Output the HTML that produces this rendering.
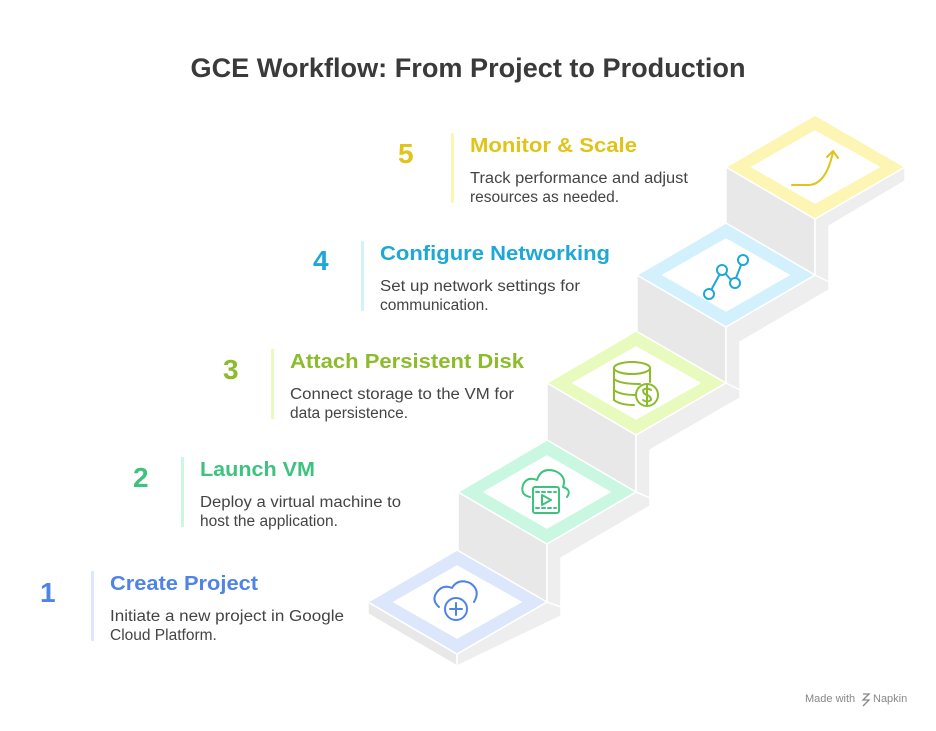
<!DOCTYPE html>
<html><head><meta charset="utf-8"><style>
body{margin:0;background:#fff;}
svg text{font-family:"Liberation Sans",sans-serif;}
</style></head><body>
<svg width="936" height="726" viewBox="0 0 936 726" xmlns="http://www.w3.org/2000/svg">
<text x="468" y="77" text-anchor="middle" font-size="27" font-weight="bold" fill="#3a3a3a" textLength="555" lengthAdjust="spacingAndGlyphs">GCE Workflow: From Project to Production</text>

<g stroke="#fff" stroke-width="1.5" stroke-linejoin="round">
<polygon points="726,167 815,219 815,282 726,230" fill="#e8e8e8"/>
<polygon points="815,219 905,167 905,181 829,226 829,282 815,282" fill="#eeeeee"/>
<polygon points="726,167 815,115 905,167 815,219" fill="#fdf5b3"/>
<polygon points="752,167 815,131 879,167 815,203" fill="#fff"/>

<polygon points="637,275 726,327 726,390 637,338" fill="#e8e8e8"/>
<polygon points="726,327 815,275 829,282 829,290 740,342 740,390 726,390" fill="#eeeeee"/>
<polygon points="637,275 726,223 815,275 726,327" fill="#d2f1fc"/>
<polygon points="663,275 726,239 789,275 726,311" fill="#fff"/>

<polygon points="547,383 636,435 636,498 547,446" fill="#e8e8e8"/>
<polygon points="636,435 726,383 740,390 740,398 650,450 650,498 636,498" fill="#eeeeee"/>
<polygon points="547,383 636,331 726,383 636,435" fill="#e9fabf"/>
<polygon points="573,383 636,347 700,383 636,419" fill="#fff"/>

<polygon points="458,492 547,544 547,607 458,555" fill="#e8e8e8"/>
<polygon points="547,544 636,492 650,498 650,506 561,558 561,607 547,607" fill="#eeeeee"/>
<polygon points="458,492 547,440 636,492 547,544" fill="#c9f7e2"/>
<polygon points="484,492 547,456 610,492 547,528" fill="#fff"/>

<polygon points="368,602 457,654 457,666 368,614" fill="#e8e8e8"/>
<polygon points="457,654 547,602 561,607 561,616 457,666" fill="#eeeeee"/>
<polygon points="368,602 457,550 547,602 457,654" fill="#dce7fb"/>
<polygon points="394,602 457,566 521,602 457,638" fill="#fff"/>
</g>

<g fill="none" stroke-width="2" stroke-linecap="round" stroke-linejoin="round">
<path d="M792,185 L808,185 Q826,185 833,152" stroke="#e0c419"/>
<path d="M827,157 L833,151 L838,158" stroke="#e0c419"/>
<g stroke="#1ea8d8"><path d="M709,294 L722,270 L734,283 L743,260"/>
<circle cx="709" cy="294" r="5" fill="#fff"/><circle cx="722" cy="270" r="5" fill="#fff"/><circle cx="735" cy="283" r="5" fill="#fff"/><circle cx="743" cy="260" r="5" fill="#fff"/></g>
<g stroke="#8cbc2c"><ellipse cx="632" cy="368" rx="18" ry="6"/><path d="M614,368 V400 Q620,405 634,405 M614,379 Q620,384 640,384 M614,390 Q620,395 636,395 M650,368 V382"/>
<circle cx="647" cy="395" r="11" fill="#fff"/><path d="M651,390 Q647,387 643,390 Q643,394 647,395 Q651,396 651,400 Q647,403 643,400 M647,385 V405"/></g>
<g stroke="#3ec37f"><path d="M530,497 Q520,495 523,485 Q527,476 537,480 Q541,467 555,471 Q567,476 563,487 Q572,490 567,497"/>
<rect x="533" y="487" width="26" height="26" rx="2" fill="#fff"/><path d="M536,492 H556 M536,508 H556" stroke-dasharray="3 3"/><path d="M542,495 L551,500 L542,505 Z"/></g>
<g stroke="#4f84e6"><path d="M439,607 Q431,600 437,592 Q443,584 452,588 Q458,578 470,583 Q481,590 474,602"/>
<circle cx="456" cy="609" r="11" fill="#fff"/><path d="M456,603 V615 M450,609 H462"/></g>
</g>

<g>
<text x="40" y="602" font-size="28" font-weight="bold" fill="#4f84e6">1</text>
<rect x="91" y="571" width="3" height="70" fill="#dce7fb"/>
<text x="110" y="590" font-size="20" font-weight="bold" fill="#4f84e6" textLength="148" lengthAdjust="spacingAndGlyphs">Create Project</text>
<text x="110" y="621" font-size="15.5" fill="#444" textLength="234" lengthAdjust="spacingAndGlyphs">Initiate a new project in Google</text>
<text x="110" y="640" font-size="15.5" fill="#444">Cloud Platform.</text>

<text x="133" y="487" font-size="28" font-weight="bold" fill="#3ec37f">2</text>
<rect x="181" y="457" width="3" height="70" fill="#c9f7e2"/>
<text x="200" y="476" font-size="20" font-weight="bold" fill="#3ec37f" textLength="115" lengthAdjust="spacingAndGlyphs">Launch VM</text>
<text x="200" y="507" font-size="15.5" fill="#444" textLength="201" lengthAdjust="spacingAndGlyphs">Deploy a virtual machine to</text>
<text x="200" y="526" font-size="15.5" fill="#444">host the application.</text>

<text x="223" y="379" font-size="28" font-weight="bold" fill="#8cbc2c">3</text>
<rect x="271" y="349" width="3" height="70" fill="#e9fabf"/>
<text x="290" y="368" font-size="20" font-weight="bold" fill="#8cbc2c" textLength="234" lengthAdjust="spacingAndGlyphs">Attach Persistent Disk</text>
<text x="290" y="399" font-size="15.5" fill="#444" textLength="224" lengthAdjust="spacingAndGlyphs">Connect storage to the VM for</text>
<text x="290" y="418" font-size="15.5" fill="#444">data persistence.</text>

<text x="313" y="270" font-size="28" font-weight="bold" fill="#1ea8d8">4</text>
<rect x="361" y="241" width="3" height="70" fill="#d2f1fc"/>
<text x="380" y="260" font-size="20" font-weight="bold" fill="#1ea8d8" textLength="230" lengthAdjust="spacingAndGlyphs">Configure Networking</text>
<text x="380" y="291" font-size="15.5" fill="#444" textLength="200" lengthAdjust="spacingAndGlyphs">Set up network settings for</text>
<text x="380" y="310" font-size="15.5" fill="#444">communication.</text>

<text x="398" y="163" font-size="28" font-weight="bold" fill="#e0c419">5</text>
<rect x="451" y="133" width="3" height="70" fill="#fdf5b3"/>
<text x="470" y="152" font-size="20" font-weight="bold" fill="#e0c419" textLength="167" lengthAdjust="spacingAndGlyphs">Monitor &amp; Scale</text>
<text x="470" y="183" font-size="15.5" fill="#444" textLength="218" lengthAdjust="spacingAndGlyphs">Track performance and adjust</text>
<text x="470" y="202" font-size="15.5" fill="#444">resources as needed.</text>
</g>

<text x="805" y="702" font-size="11" fill="#888">Made with</text>
<path d="M863,694 L869,694 L863,700 L869,700 L863,706" stroke="#888" fill="none" stroke-width="1.3"/>
<text x="873" y="702" font-size="11" fill="#888">Napkin</text>
</svg>
</body></html>
